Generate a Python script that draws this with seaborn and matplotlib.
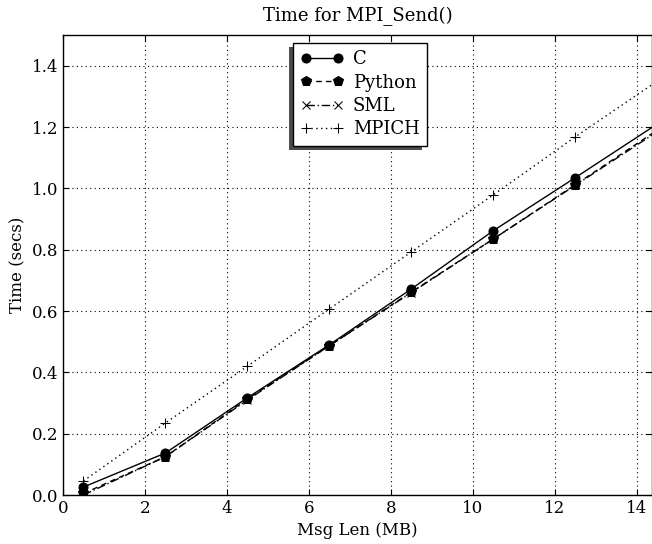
import numpy as np
import pandas as pd
import matplotlib
matplotlib.use("Agg")
import matplotlib.pyplot as plt
import matplotlib.patheffects as pe
import seaborn as sns

msg_len = [0.5, 2.5, 4.5, 6.5, 8.5, 10.5, 12.5, 14.5]
c_time = [0.026, 0.137, 0.317, 0.490, 0.672, 0.862, 1.035, 1.210]
python_time = [0.005, 0.125, 0.313, 0.487, 0.662, 0.835, 1.012, 1.190]
sml_time = [0.000, 0.125, 0.310, 0.487, 0.660, 0.835, 1.010, 1.185]
mpich_time = [0.046, 0.235, 0.420, 0.607, 0.793, 0.979, 1.168, 1.350]

series = [
    ("C", c_time, "o", "-", 6.5),
    ("Python", python_time, "p", (0, (4, 3)), 7),
    ("SML", sml_time, "x", (0, (6, 2, 1, 2)), 5.5),
    ("MPICH", mpich_time, "+", (0, (1, 2.5)), 6.5),
]

sns.set_style("ticks")
plt.rcParams["font.family"] = ["DejaVu Serif"]
for k in ["text.color", "axes.labelcolor", "xtick.color", "ytick.color", "axes.edgecolor"]:
    plt.rcParams[k] = "black"
plt.rcParams["xtick.direction"] = "in"
plt.rcParams["ytick.direction"] = "in"
plt.rcParams["xtick.top"] = True
plt.rcParams["ytick.right"] = True

fig = plt.figure(figsize=(6.52, 5.44), dpi=100)
ax = fig.add_axes([63 / 652, 49 / 544, (652 - 63) / 652, (495 - 35) / 544])

for name, vals, mk, ls, ms in series:
    df = pd.DataFrame({"x": msg_len, "y": vals})
    sns.lineplot(data=df, x="x", y="y", ax=ax, color="black", linestyle=ls,
                 marker=mk, markersize=ms, markeredgecolor="black",
                 markerfacecolor="black", linewidth=1.0, label=name)

ax.set_xlim(0, 14.37)
ax.set_ylim(0, 1.5)
ax.set_xticks([0, 2, 4, 6, 8, 10, 12, 14])
ax.set_yticks([0.0, 0.2, 0.4, 0.6, 0.8, 1.0, 1.2, 1.4])
ax.set_yticklabels(["0.0", "0.2", "0.4", "0.6", "0.8", "1.0", "1.2", "1.4"])
ax.grid(True, color="black", linestyle=(0, (1, 3)), linewidth=0.8)
ax.tick_params(labelsize=12, length=4, width=0.8, colors="black")
for s in ax.spines.values():
    s.set_linewidth(1.0)
    s.set_color("black")
ax.set_xlabel("Msg Len (MB)", fontsize=12)
ax.set_ylabel("Time (secs)", fontsize=12)
ax.set_title("Time for MPI_Send()", fontsize=13, pad=10)

leg = ax.legend(loc="upper center", bbox_to_anchor=(0.504, 1 - 8 / 460),
                borderaxespad=0, fontsize=13, numpoints=2,
                frameon=True, shadow=False, fancybox=False, handlelength=2.4,
                borderpad=0.4, labelspacing=0.3, handletextpad=0.5)
frame = leg.get_frame()
frame.set_edgecolor("black")
frame.set_linewidth(1.0)
frame.set_alpha(1)
frame.set_path_effects([pe.SimplePatchShadow(offset=(-3, -3), shadow_rgbFace=(0.3, 0.3, 0.3), alpha=1.0),
                        pe.Normal()])

fig.savefig("out.png", dpi=100)
